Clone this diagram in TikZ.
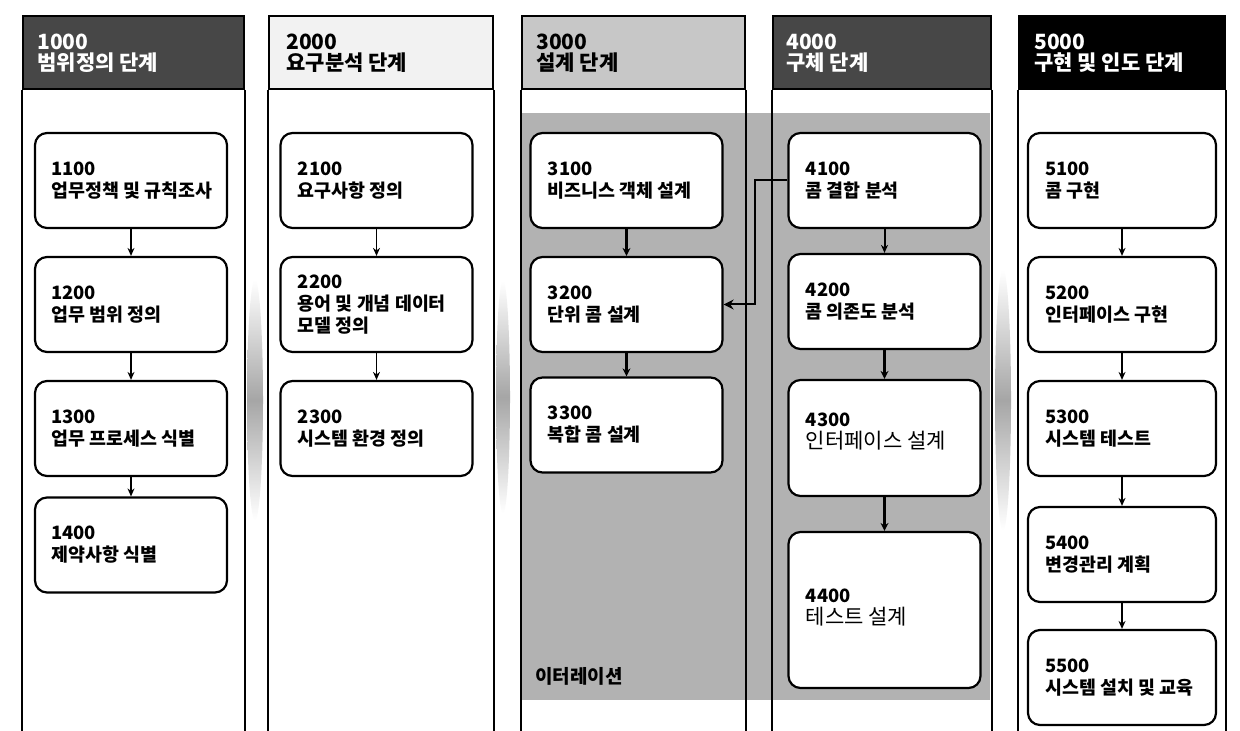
\documentclass[tikz,border=0pt]{standalone}
\usepackage{fontspec}
\setmainfont{Noto Sans CJK KR}
\usetikzlibrary{arrows.meta}
\begin{document}
\begin{tikzpicture}[x=0.5pt,y=-0.5pt,
  stagebox/.style={draw=black,line width=1.1pt,rounded corners=6pt,fill=white,minimum width=96pt,minimum height=47.5pt,inner sep=0pt},
  stagetxt/.style={anchor=west,align=left,inner sep=0pt,font=\fontsize{9.2}{11}\selectfont\bfseries},
  hdrbox/.style={draw=black,line width=1pt,anchor=north west,minimum height=36.5pt,inner sep=0pt},
  hdrtxt/.style={anchor=west,align=left,inner sep=0pt,font=\fontsize{10.5}{10.5}\selectfont\bfseries},
  colline/.style={line width=1pt},
  flow/.style={-{Stealth[length=4pt,width=3.5pt]},line width=0.6pt},
  heavyflow/.style={-{Stealth[length=4pt,width=4pt]},line width=1.6pt}
]
\useasboundingbox (0,0) rectangle (1240,731);
\fill[white] (0,0) rectangle (1240,731);

% iteration area
\fill[black!30] (521,113) rectangle (990,700);
\node[anchor=west,inner sep=0pt,font=\fontsize{9.5}{10}\selectfont\bfseries] (iter) at (535,676) {이터레이션};

% fading strips between columns
\shade[top color=white,bottom color=white,middle color=black!35] (255,400) ellipse [x radius=4pt,y radius=60pt];
\shade[top color=white,bottom color=white,middle color=black!35] (503,397) ellipse [x radius=3.5pt,y radius=58pt];
\shade[top color=white,bottom color=white,middle color=black!35] (1003,400) ellipse [x radius=4pt,y radius=65pt];

% headers
\node[hdrbox,fill=black!72,minimum width=110.5pt] (h1) at (22,15) {};
\node[hdrbox,fill=black!5,minimum width=112pt] (h2) at (268,15) {};
\node[hdrbox,fill=black!22,minimum width=111.5pt] (h3) at (521,15) {};
\node[hdrbox,fill=black!72,minimum width=109pt] (h4) at (772,15) {};
\node[hdrbox,fill=black,minimum width=103pt] (h5) at (1018,15) {};

\node[hdrtxt,text=white] (ht1) at (37,53) {1000\\범위정의 단계};
\node[hdrtxt] (ht2) at (286,53) {2000\\요구분석 단계};
\node[hdrtxt] (ht3) at (536,53) {3000\\설계 단계};
\node[hdrtxt,text=white] (ht4) at (786,53) {4000\\구체 단계};
\node[hdrtxt,text=white] (ht5) at (1034,53) {5000\\구현 및 인도 단계};

% column lines
\foreach \h in {h1,h2,h3,h4,h5}{
  \draw[colline] (\h.south west) -- ++(0,643);
  \draw[colline] (\h.south east) -- ++(0,643);
}

% column 1
\node[stagebox] (b1100) at (131,180.5) {};
\node[stagebox] (b1200) at (131,304.5) {};
\node[stagebox] (b1300) at (131,428.5) {};
\node[stagebox] (b1400) at (131,545) {};
\node[stagetxt] (t1100) at ([xshift=8.5pt]b1100.west) {1100\\업무정책 및 규칙조사};
\node[stagetxt] (t1200) at ([xshift=8.5pt]b1200.west) {1200\\업무 범위 정의};
\node[stagetxt] (t1300) at ([xshift=8.5pt]b1300.west) {1300\\업무 프로세스 식별};
\node[stagetxt] (t1400) at ([xshift=8.5pt]b1400.west) {1400\\제약사항 식별};

% column 2
\node[stagebox] (b2100) at (376.5,180.5) {};
\node[stagebox] (b2200) at (376.5,304.5) {};
\node[stagebox] (b2300) at (376.5,428.5) {};
\node[stagetxt] (t2100) at ([xshift=9pt]b2100.west) {2100\\요구사항 정의};
\node[stagetxt] (t2200) at ([xshift=9pt]b2200.west) {2200\\용어 및 개념 데이터\\모델 정의};
\node[stagetxt] (t2300) at ([xshift=9pt]b2300.west) {2300\\시스템 환경 정의};

% column 3
\node[stagebox] (b3100) at (626.5,180.5) {};
\node[stagebox] (b3200) at (626.5,304.5) {};
\node[stagebox] (b3300) at (626.5,425) {};
\node[stagetxt] (t3100) at ([xshift=9pt]b3100.west) {3100\\비즈니스 객체 설계};
\node[stagetxt] (t3200) at ([xshift=9pt]b3200.west) {3200\\단위 콤 설계};
\node[stagetxt] (t3300) at ([xshift=9pt]b3300.west) {3300\\복합 콤 설계};

% column 4
\node[stagebox] (b4100) at (884.5,180.5) {};
\node[stagebox] (b4200) at (884.5,301.5) {};
\node[stagebox,minimum height=58pt] (b4300) at (884.5,438) {};
\node[stagebox,minimum height=78pt] (b4400) at (884.5,610) {};
\node[stagetxt] (t4100) at ([xshift=9pt]b4100.west) {4100\\콤 결합 분석};
\node[stagetxt] (t4200) at ([xshift=9pt]b4200.west) {4200\\콤 의존도 분석};
\node[stagetxt] (t4300) at ([xshift=9pt,yshift=3pt]b4300.west) {4300\\{\fontsize{10.5}{12}\selectfont\mdseries 인터페이스 설계}};
\node[stagetxt] (t4400) at ([xshift=9pt,yshift=1pt]b4400.west) {4400\\{\fontsize{10.5}{12}\selectfont\mdseries 테스트 설계}};

% column 5
\node[stagebox,minimum width=94pt] (b5100) at (1122,180.5) {};
\node[stagebox,minimum width=94pt] (b5200) at (1122,304.5) {};
\node[stagebox,minimum width=94pt] (b5300) at (1122,428.5) {};
\node[stagebox,minimum width=94pt] (b5400) at (1122,554.5) {};
\node[stagebox,minimum width=94pt] (b5500) at (1122,677.5) {};
\node[stagetxt] (t5100) at ([xshift=9pt]b5100.west) {5100\\콤 구현};
\node[stagetxt] (t5200) at ([xshift=9pt]b5200.west) {5200\\인터페이스 구현};
\node[stagetxt] (t5300) at ([xshift=9pt]b5300.west) {5300\\시스템 테스트};
\node[stagetxt] (t5400) at ([xshift=9pt]b5400.west) {5400\\변경관리 계획};
\node[stagetxt] (t5500) at ([xshift=9pt]b5500.west) {5500\\시스템 설치 및 교육};

% connectors
\draw[flow] (b1100) -- (b1200);
\draw[flow] (b1200) -- (b1300);
\draw[flow] (b1300) -- (b1400);
\draw[flow] (b2100) -- (b2200);
\draw[flow] (b2200) -- (b2300);
\draw[heavyflow] (b3100) -- (b3200);
\draw[heavyflow] (b3200) -- (b3300);
\draw[flow,line width=1pt] (b4100) -- (b4200);
\draw[heavyflow] (b4200) -- (b4300);
\draw[heavyflow] (b4300) -- (b4400);
\draw[flow] (b5100) -- (b5200);
\draw[flow] (b5200) -- (b5300);
\draw[flow] (b5300) -- (b5400);
\draw[flow] (b5400) -- (b5500);

\coordinate (c34) at (755,180.5);
\draw[line width=1pt,-{Stealth[length=5pt,width=5pt]}] (b4100.west) -- (c34) |- (b3200.east);
\end{tikzpicture}
\end{document}
